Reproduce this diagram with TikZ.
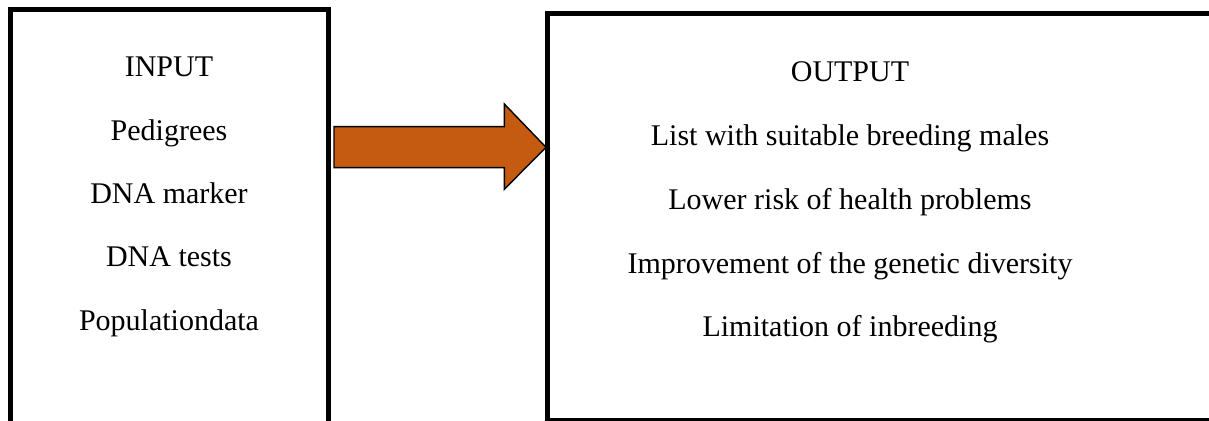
\documentclass[tikz,border=0pt]{standalone}
\usepackage{fontspec}
\setmainfont{Liberation Serif}
\definecolor{arroworange}{HTML}{C55A11}
\tikzset{
  frame/.style={line width=2.5pt},
  boxtext/.style={anchor=base, font=\fontsize{15}{18}\selectfont},
  blockarrow/.style={fill=arroworange, draw=black, line width=0.7pt, line join=miter}
}
\begin{document}
\begin{tikzpicture}[x=0.5pt,y=-0.5pt]
\useasboundingbox (0,0) rectangle (1209,421);
\clip (0,0) rectangle (1209,421);
% Input box (open at the bottom)
\draw[frame] (10,430) -- (10,9.5) -- (328.5,9.5) -- (328.5,430);
% Output box
\draw[frame] (547.7,14) rectangle (1220,421);
% Arrow
\draw[blockarrow] (334,126.7) -- (504.3,126.7) -- (504.3,104) -- (546,147.3)
  -- (504.3,189.3) -- (504.3,167.7) -- (334,167.7) -- cycle;
% Input lines
\foreach \t [count=\i] in {INPUT, Pedigrees, DNA marker, DNA tests, Populationdata}
  \node[boxtext] (in\i) at (169,{77+63.3*(\i-1)}) {\t};
% Output lines
\foreach \t [count=\i] in {OUTPUT, List with suitable breeding males,
    Lower risk of health problems, Improvement of the genetic diversity,
    Limitation of inbreeding}
  \node[boxtext] (out\i) at (850,{82+63.7*(\i-1)}) {\t};
\end{tikzpicture}
\end{document}
